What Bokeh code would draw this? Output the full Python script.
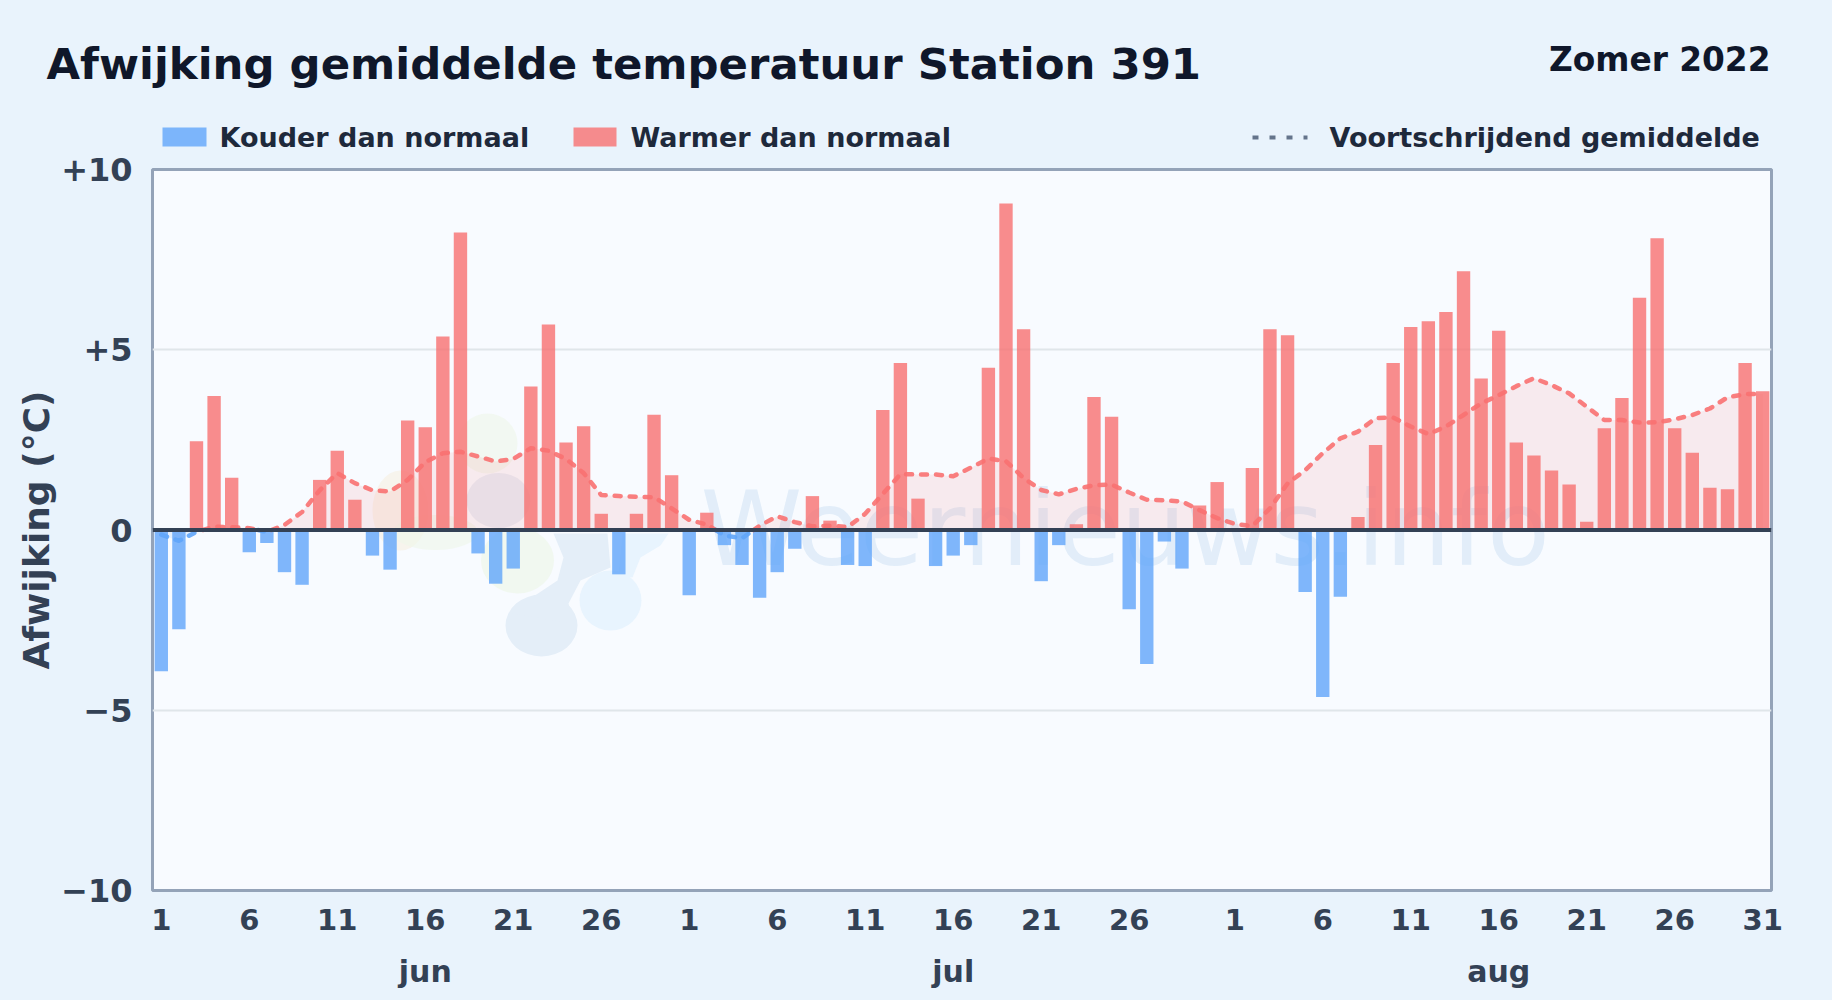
import numpy as np
from bokeh.plotting import figure
from bokeh.embed import file_html
from bokeh.layouts import column
from bokeh.resources import INLINE
from bokeh.models import Range1d, FixedTicker, LinearAxis, Span
from bokeh.core.properties import value

title_text = "Afwijking gemiddelde temperatuur Station 391"
season_text = "Zomer 2022"
legend_cold = "Kouder dan normaal"
legend_warm = "Warmer dan normaal"
legend_roll = "Voortschrijdend gemiddelde"
y_axis_title = "Afwijking (°C)"
months = ["jun", "jul", "aug"]
month_centers = [15, 45, 76]
y_ticks = [-10, -5, 0, 5, 10]
y_tick_labels = ["−10", "−5", "0", "+5", "+10"]
x_ticks = [0, 5, 10, 15, 20, 25, 30, 35, 40, 45, 50, 55, 61, 66, 71, 76, 81, 86, 91]
x_tick_labels = ["1", "6", "11", "16", "21", "26", "1", "6", "11", "16", "21", "26", "1", "6", "11", "16", "21", "26", "31"]

jun = [-3.92, -2.75, 2.46, 3.72, 1.45, -0.62, -0.36, -1.17, -1.52, 1.39,
       2.2, 0.84, -0.71, -1.1, 3.04, 2.85, 5.37, 8.25, -0.65, -1.49,
       -1.07, 3.98, 5.7, 2.43, 2.88, 0.45, -1.23, 0.45, 3.2, 1.52]
jul = [-1.81, 0.48, -0.42, -0.97, -1.88, -1.17, -0.52, 0.94, 0.26, -0.97,
       -1.0, 3.33, 4.63, 0.87, -1.0, -0.71, -0.42, 4.5, 9.06, 5.57,
       -1.42, -0.42, 0.16, 3.69, 3.14, -2.2, -3.72, -0.32, -1.07, 0.68, 1.33]
aug = [0.0, 1.72, 5.57, 5.4, -1.72, -4.63, -1.85, 0.36, 2.36, 4.63,
       5.63, 5.79, 6.05, 7.18, 4.2, 5.53, 2.43, 2.07, 1.65, 1.26,
       0.23, 2.82, 3.66, 6.44, 8.09, 2.82, 2.14, 1.17, 1.13, 4.63, 3.85]

roll_jun = [-0.13, -0.3, -0.05, 0.09, 0.08, 0.05, -0.05, 0.14, 0.5, 1.1,
            1.58, 1.3, 1.1, 1.07, 1.39, 1.88, 2.13, 2.17, 2.04, 1.9,
            1.97, 2.27, 2.2, 1.97, 1.58, 0.97, 0.94, 0.92, 0.91, 0.6]
roll_jul = [0.28, 0.15, -0.15, -0.23, 0.12, 0.38, 0.22, 0.1, 0.12, 0.08,
            0.45, 1.0, 1.55, 1.54, 1.54, 1.49, 1.73, 1.98, 1.91, 1.44,
            1.11, 0.99, 1.14, 1.24, 1.26, 1.04, 0.84, 0.82, 0.79, 0.55, 0.33]
roll_aug = [0.17, 0.11, 0.6, 1.29, 1.66, 2.13, 2.54, 2.73, 3.1, 3.12,
            2.87, 2.66, 2.87, 3.19, 3.51, 3.74, 3.99, 4.21, 4.02, 3.79,
            3.42, 3.05, 3.05, 2.98, 2.99, 3.07, 3.19, 3.37, 3.68, 3.77, 3.77]

BG = "#e9f3fc"
PLOT_BG = "#f8fbff"
RED = "#f87171"
BLUE = "#60a5fa"
DARK = "#0f172a"
AXIS = "#334155"
LEGEND_TXT = "#1e293b"
FONT = "DejaVu Sans"

vals = np.array(jun + jul + aug, dtype=float)
roll = np.array(roll_jun + roll_jul + roll_aug, dtype=float)
days = np.arange(len(vals), dtype=float)

HEAD_H = 156
OVERLAP = 16
TOP_GAP = HEAD_H - OVERLAP
FL, FR, FT, FB = 152.0, 1771.0, 169.0, 890.0
Y0 = (FT + FB) / 2
PXU = (FB - FT) / 20
STEP = (FR - FL) / 92
def dx(px):
    return (px - FL) / STEP - 0.5
def dy(py):
    return (Y0 - py) / PXU

# ---------- header strip: title and legend, laid out in page pixels ----------
head = figure(width=1832, height=HEAD_H, output_backend="svg", toolbar_location=None,
              x_range=Range1d(0, 1832), y_range=Range1d(HEAD_H, 0), frame_align=False,
              margin=(0, 0, -OVERLAP, 0),
              min_border=0, outline_line_color=None, background_fill_color=BG, border_fill_color=BG)
head.axis.visible = False
head.grid.visible = False

def head_text(text, x, y, size, color, align="left"):
    head.text(x=[x], y=[y - 0.35 * size], text=[text], text_font=value(FONT), text_font_style="bold",
              text_font_size=f"{size}px", text_color=color, text_align=align, text_baseline="alphabetic")

head_text(title_text, 46, 79, 43.4, DARK)
head_text(season_text, 1770, 71, 32.8, DARK, "right")
head_text(legend_cold, 219, 146, 27, LEGEND_TXT)
head_text(legend_warm, 630, 146, 27, LEGEND_TXT)
head_text(legend_roll, 1329, 146, 27, LEGEND_TXT)
head.quad(left=[162], right=[206], top=[127], bottom=[146], fill_color=BLUE, fill_alpha=0.8, line_color=None)
head.quad(left=[573], right=[616], top=[127], bottom=[146], fill_color=RED, fill_alpha=0.8, line_color=None)
head.line([1252, 1307], [137, 137], line_color="#64748b", line_width=4, line_dash="6 11")

# ---------- main plot ----------
p = figure(width=1832, height=1000 - TOP_GAP, output_backend="svg", toolbar_location=None,
           x_range=Range1d(-0.5, 91.5), y_range=Range1d(-10, 10), frame_align=False,
           frame_width=1619, frame_height=721,
           min_border_left=152, min_border_right=61, min_border_top=int(FT) - TOP_GAP, min_border_bottom=110,
           background_fill_color=PLOT_BG, border_fill_color=None,
           outline_line_color="#94a3b8", outline_line_width=3)

p.xaxis.ticker = FixedTicker(ticks=x_ticks)
p.xaxis.major_label_overrides = dict(zip(x_ticks, x_tick_labels))
p.yaxis.ticker = FixedTicker(ticks=y_ticks)
p.yaxis.major_label_overrides = dict(zip(y_ticks, y_tick_labels))
month_axis = LinearAxis(ticker=FixedTicker(ticks=month_centers),
                        major_label_overrides=dict(zip(month_centers, months)))
p.add_layout(month_axis, "below")
for ax in (p.below[0], p.yaxis[0], month_axis):
    ax.axis_line_color = None
    ax.major_tick_line_color = None
    ax.minor_tick_line_color = None
    ax.major_label_text_font = FONT
    ax.major_label_text_font_style = "bold"
    ax.major_label_text_font_size = "29px"
    ax.major_label_text_color = AXIS
p.below[0].major_label_standoff = 12
month_axis.major_label_standoff = 15
month_axis.major_label_text_font_size = "30px"
p.yaxis.major_label_standoff = 14
p.yaxis.major_label_text_font_size = "32px"
p.yaxis.axis_label = y_axis_title
p.yaxis.axis_label_text_font = FONT
p.yaxis.axis_label_text_font_style = "bold"
p.yaxis.axis_label_text_font_size = "36px"
p.yaxis.axis_label_text_color = AXIS
p.yaxis.axis_label_standoff = 1
p.xgrid.visible = False
p.ygrid.grid_line_color = "#e0e6ea"
p.ygrid.grid_line_width = 2

# watermark
blobs = [
    (487, 443, 60, 60, "#eef7ea", 0.6),
    (400, 510, 56, 80, "#f6ecd8", 0.45),
    (435, 532, 85, 35, "#eef7ea", 0.6),
    (517, 560, 73, 66, "#eef7ea", 0.7),
    (498, 500, 64, 55, "#dfe7f2", 0.7),
    (541, 625, 72, 62, "#e4eef8", 1.0),
    (610, 600, 62, 60, "#e8f4fe", 1.0),
]
for bx, by, bw, bh, bc, ba in blobs:
    p.ellipse(x=[dx(bx)], y=[dy(by)], width=bw, height=bh, width_units="screen", height_units="screen",
              fill_color=bc, fill_alpha=ba, line_color=None)
neck_x = [553, 607, 610, 580, 568, 573, 510, 530, 557, 563]
neck_y = [533, 533, 567, 580, 603, 623, 613, 598, 580, 557]
wing_x = [622, 668, 660, 640, 632, 618]
wing_y = [533, 533, 545, 557, 577, 575]
p.patch([dx(v) for v in neck_x], [dy(v) for v in neck_y], fill_color="#e4eef8", line_color=None)
p.patch([dx(v) for v in wing_x], [dy(v) for v in wing_y], fill_color="#e8f4fe", line_color=None)
p.text(x=[dx(700)], y=[dy(565 - 0.35 * 103)], text=["Weernieuws.info"], text_font=value(FONT),
       text_font_size="103px", text_color="#4f8fd0", text_alpha=0.13, text_baseline="alphabetic")

# bars
warm = vals > 0
cold = vals < 0
p.vbar(x=days[cold], top=vals[cold], bottom=0, width=0.76, fill_color=BLUE, fill_alpha=0.8, line_color=None)
p.vbar(x=days[warm], top=vals[warm], bottom=0, width=0.76, fill_color=RED, fill_alpha=0.8, line_color=None)

# rolling mean split at the zero crossings
xs, ys = [days[0]], [roll[0]]
for i in range(1, len(roll)):
    if roll[i - 1] * roll[i] < 0:
        t = roll[i - 1] / (roll[i - 1] - roll[i])
        xs.append(days[i - 1] + t)
        ys.append(0.0)
    xs.append(days[i])
    ys.append(roll[i])
xs = np.array(xs)
ys = np.array(ys)
pos = np.where(ys >= 0, ys, np.nan)
neg = np.where(ys <= 0, ys, np.nan)
p.varea(x=xs, y1=0, y2=np.maximum(ys, 0), fill_color=RED, fill_alpha=0.12)
p.varea(x=xs, y1=0, y2=np.minimum(ys, 0), fill_color=BLUE, fill_alpha=0.12)
p.line(xs, pos, line_color=RED, line_alpha=0.9, line_width=4.5, line_dash="6 9", line_cap="round", line_join="round")
p.line(xs, neg, line_color=BLUE, line_alpha=0.9, line_width=4.5, line_dash="6 9", line_cap="round", line_join="round")

p.add_layout(Span(location=0, dimension="width", line_color=AXIS, line_width=4))

layout = column(head, p, spacing=0)
html = file_html(layout, INLINE)
html = html.replace("<head>", "<head><style>html,body{background:%s;overflow:hidden}</style>" % BG, 1)
open("out.html", "w").write(html)
